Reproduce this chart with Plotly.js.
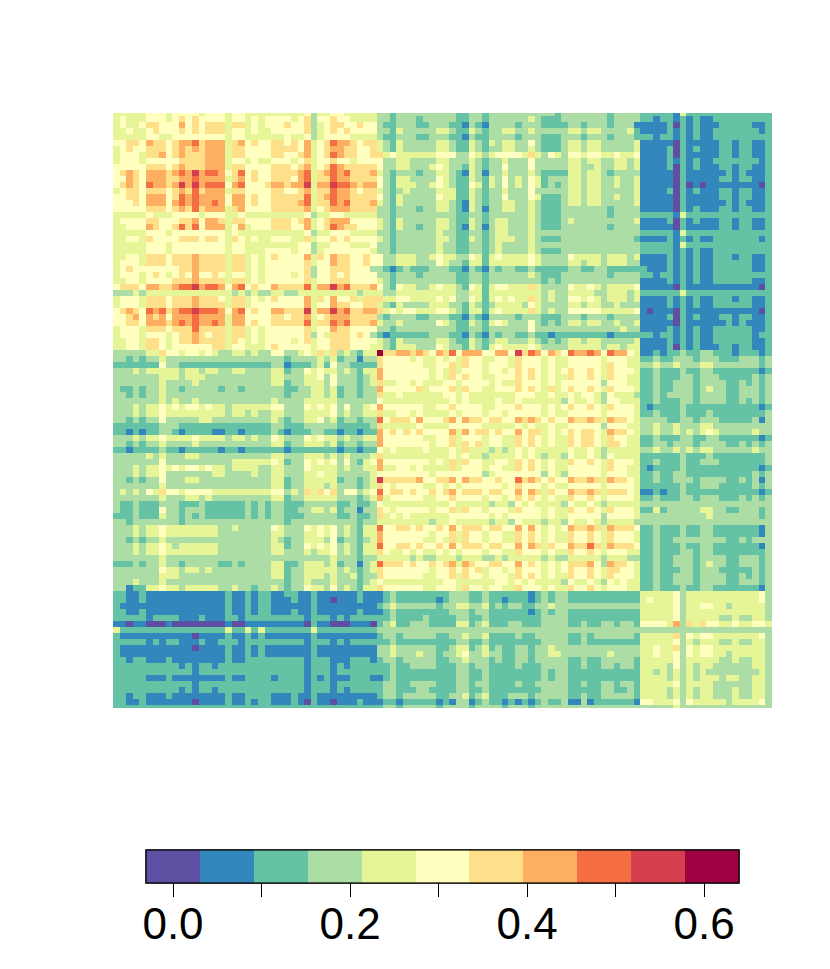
<!DOCTYPE html>
<html>
<head>
<meta charset="utf-8">
<script src="https://cdn.plot.ly/plotly-3.0.1.min.js"></script>
<style>html,body{margin:0;padding:0;background:#fff}</style>
</head>
<body>
<div id="plot" style="width:830px;height:969px"></div>
<script>
// values of the 11 colour bands, cells below are band numbers (A = 10)
var levelValues = [0.0, 0.061, 0.122, 0.183, 0.243, 0.304, 0.365, 0.426, 0.487, 0.548, 0.609];
var bandColors = ["#5E4FA2","#3288BD","#66C2A5","#ABDDA4","#E6F598","#FFFFBF","#FEE08B","#FDAE61","#F46D43","#D53E4F","#9E0142"];
var tickVals = [0, 0.1, 0.2, 0.3, 0.4, 0.5, 0.6];
var tickText = ["0.0", "", "0.2", "", "0.4", "", "0.6"];

var blockTL = [
"4444455545 5554555455 4444444445 3445544444",
"4544455545 6565555455 4545555456 3556554444",
"4544566555 7565666466 4545556556 3456655655",
"4454456555 6565666455 4544555556 3456565555",
"4444455445 5555555455 4444445445 3455554444",
"5566576656 7786777467 5655665657 4568776566",
"4565566656 7676777466 5555666657 4567766556",
"4555466756 7666777466 5555665567 4568766556",
"4555455555 6666777455 4544555456 4556554555",
"5555566656 7666777466 5555666567 4568766666",
"5676577767 8797887568 5655666678 4678786667",
"5576577766 7787777467 5655666578 4668776666",
"5676587767 9797888578 5556776779 4779887677",
"4566566656 7686777466 5555665567 4668776566",
"5566577756 8787777577 5655666668 4678776666",
"5556577757 8787787577 5655666678 4668786667",
"5555566656 7686777467 5555666667 4567776666",
"4444454445 5554555445 4444444445 3445544444",
"4555566555 6675776466 5555666567 4567775555",
"4455576556 8685777457 4555666557 4568766555",
"4444455545 5555555454 4444444445 3445554444",
"4455465555 6665665465 4544555446 4556565555",
"4444455545 5555555455 4444444455 3445554445",
"4444455545 5555555455 4445555455 3455555554",
"4455466656 6676666466 4545655557 4657665565",
"4555466656 6676666466 4545555556 4557665565",
"4565555555 6676666466 4545555556 3556665553",
"4555456545 6575565455 4545555456 3556565555",
"4455455556 6676666466 4545555556 4556665555",
"5666577667 8897887578 5655766668 4779786667",
"3334344444 4444444434 3433443344 4444444344",
"4555466656 6676665466 4545655557 4657556466",
"4555466656 6676666466 4555555557 4557665566",
"5676587867 8898887578 5655776669 4779786677",
"5567576757 7787777477 5555665667 4567776666",
"5566577767 8787787477 5655666668 4668786667",
"4555466656 6686666466 4545555556 4557665555",
"4555455545 6676566466 4545555556 3546665653",
"4455466545 6676666465 4545555456 4556665555",
"4455466545 5555566455 4445655555 4556665554"
];

var blockTM = [
"3323333333 3322332333 3333333233 3333323333",
"3323332333 3322332333 3334322233 3333323333",
"3223332233 3221321333 3233322223 3233323331",
"3324333334 4322432334 4334333334 4344333342",
"3223332233 3221322333 3233322233 3233323332",
"4324333334 4322432434 4335322234 4344333334",
"4324333334 4322432334 4334322234 4344333334",
"6454444445 5533543455 5546435435 5455445445",
"5334433334 4333432334 3335333334 4344334434",
"5334433345 4332432335 3335333334 4334334434",
"4323332334 4321431334 3334322224 4344323333",
"5324433335 4322432435 3435423334 4344334334",
"5324443345 4322542435 3435423234 4344334334",
"4323433334 4422432334 3335333334 4344333334",
"5324333335 4422432335 3335422234 4344334334",
"4324333334 4321432334 4334322234 4344333334",
"3323332334 4321431334 4334322233 3333323333",
"3323333333 3322332333 3334322233 3333323333",
"4324333334 4322432344 3334322234 3333333334",
"4324332334 4321431344 3334322233 3333323333",
"3323333334 3322332344 3334333333 3333333333",
"4323333334 4322432344 4334322233 3333333332",
"3323333334 3322332343 3334333333 3333333333",
"3323333334 3322332343 3334322233 3333333333",
"5334443345 4433542454 4445433335 4444344434",
"5334443335 4332442444 4445433334 4344344433",
"3212322233 3221321323 3223222223 3223322222",
"3323332333 3322332333 3334322233 3333323333",
"4323333333 3322332333 3333323233 3333333333",
"5325443345 4432542455 4446433335 4454344445",
"4334444444 4433442444 4444434334 4443344434",
"6445544445 4533542454 5446434335 5454344434",
"4324333344 4332432344 4435433334 4344334333",
"6454554445 5432442454 4446434335 5555444445",
"3233332233 3221321333 3233322233 3233323333",
"4334333335 4322432454 3335323234 4344334334",
"3323333333 3322332333 3335333333 3333333433",
"2122222233 3221321323 3223221222 2222212222",
"4324333334 4322432344 3334323234 4344333334",
"4324443335 4332432454 4445433334 4444344344"
];

var blockTR = [
"2222214222 2222222222",
"2212212121 1222222222",
"1111202121 1122222112",
"1111212121 1222222212",
"2212212121 1222222222",
"1111102111 1122122112",
"1111202121 1122122112",
"1111202111 1122122112",
"1111212121 1222222212",
"1111202121 1122122112",
"1111102111 1112121112",
"1111102111 1122122112",
"1111102010 1111111102",
"1111202121 1122122112",
"1111102111 1122122112",
"1111102111 1112121112",
"1111102121 1122122112",
"2222214222 2222222222",
"1111202121 1122122112",
"1111102111 1122122112",
"2222214222 2222222222",
"1111212121 1222222212",
"2222214222 2222222222",
"2222212121 1222222222",
"1111212121 1222122112",
"1111212121 1222222112",
"2111212121 1222222112",
"2212212121 1222222222",
"1111212121 1222222112",
"1111102111 1111111102",
"2222224222 2222222222",
"1111212121 1222122112",
"1111212121 1222222112",
"1011102111 1111111102",
"1111202121 1122122112",
"1111102111 1112121112",
"1111212121 1222222112",
"2212212121 1222222122",
"1111212121 1222222112",
"1111202121 1122122112"
];

var blockMM = [
"A667767657 6857775577 5968757658 7787587754",
"6555545445 4546554455 4655545445 5555455544",
"6555555445 5646554555 4655545445 5555465544",
"7555555545 4645554554 5656545456 5565465554",
"7555555545 4656554455 5656545446 5565465544",
"6445545444 5545555454 4655545455 5555355544",
"7555556455 5646554455 5656546456 5565465554",
"6445444444 5545444444 4555445445 4554354443",
"5444444444 4545444454 4544444435 4454355444",
"7555555445 5655554455 5655545456 5565465554",
"6445545444 4545554554 5555545445 5555455554",
"8566657555 6757665665 5767656557 6676476654",
"6444445444 4555554444 4545445445 5555355544",
"7565656555 5747566565 5756645456 5665476654",
"7555555445 5645554554 4656545446 5665465544",
"7555555545 5646564554 4656545446 5665466544",
"5454444544 4546444343 4545444445 4454344444",
"6444444444 4545443444 4545434435 4454354444",
"7555555545 4646554455 4656545446 5565465554",
"7445545444 4645554554 4656545445 5555465544",
"5555555545 5555553455 5555535435 5555455544",
"9666667556 6757665565 5867656557 6676476654",
"6545555445 4545555554 5655545445 5555455554",
"8566565565 6756665665 5757646557 6676466654",
"7455555445 5655554554 5656545446 5565455554",
"5444444444 4544444344 3545444435 4454344444",
"6545555545 5646554555 4655545446 5565465554",
"6454544444 4555555454 5555545445 5555355554",
"4444444434 4544444344 3544434435 4454344443",
"8556656556 5756665665 5757545457 6676476665",
"7555555545 5646554554 4656545446 5565465554",
"7555555445 4646554554 4656545446 5565465554",
"8556656556 5756665665 5757646557 6686476665",
"6544545445 4545554554 4655545446 5565455544",
"4444434334 4434443343 4444434334 4444344433",
"8666565565 6747655665 5756545456 6675376654",
"6555555545 5656564554 5655545456 5565466554",
"6555555445 5646554555 4656545446 5565465554",
"5444444444 5544444455 4545444435 4454354544",
"6555555445 5546554554 4655545446 5565455544"
];

var blockMR = [
"1121223223 3222122212",
"2232233323 3322233323",
"3343343334 4333333323",
"2232223223 3222222212",
"2232223323 3322222323",
"2232233323 3332232323",
"2232233323 4332233323",
"2232333323 3332233323",
"2232223323 3332232323",
"2122223222 2222222212",
"2232223222 3222222223",
"3333223323 3322222313",
"3343343334 4333333333",
"3343343434 5433333433",
"2232223322 3322222212",
"2233233323 3332232323",
"3343343434 4333333433",
"2222223222 3222222223",
"2232223223 3322222223",
"2122223222 2222222212",
"2232233222 2222222323",
"2232233323 3332232313",
"2222223223 3322222323",
"1121223222 2222222212",
"2232223323 3322232323",
"3333333333 3333333333",
"2242333334 4332233323",
"3333333333 4333333323",
"3333333333 3333333333",
"2232223223 3222222213",
"2232223223 3222222213",
"2232233333 3332232333",
"2232223223 3222222213",
"2232223323 3222222223",
"2232233323 3332233323",
"2232233323 4332233323",
"2232223323 3322222323",
"2232233323 3332232323",
"2232233323 3332233323",
"2232223223 3222222213"
];

var blockBR = [
"4444453444 4444444453",
"4544453444 4444444453",
"4444453445 5443444443",
"4444453444 4444444443",
"4444453444 4433433443",
"5555473646 5544544554",
"3333333333 3333333333",
"4444463545 5444444453",
"4444453434 4433433443",
"4454463545 5444444443",
"4454453545 5443444443",
"4444453444 4433433443",
"4444353434 4333333443",
"4434343434 3333333343",
"4444343434 4434433443",
"4444453444 4333333443",
"4444343434 4333433443",
"4444343434 4333433443",
"5544453544 4443444453",
"3333343333 3333333333"
];

function clean(s) { return s.replace(/ /g, ""); }
function band(ch) { return levelValues[parseInt(ch, 16)]; }

// matrix is symmetric, lower left blocks are the upper right ones flipped
var tl = blockTL.map(clean), tm = blockTM.map(clean), tr = blockTR.map(clean);
var mm = blockMM.map(clean), mr = blockMR.map(clean), br = blockBR.map(clean);

function col(block, j) { return block.map(function(row) { return row[j]; }).join(""); }

var rows = [];
for (var i = 0; i < 40; i++) rows.push(tl[i] + tm[i] + tr[i]);
for (var i = 0; i < 40; i++) rows.push(col(tm, i) + mm[i] + mr[i]);
for (var i = 0; i < 20; i++) rows.push(col(tr, i) + col(mr, i) + br[i]);

var z = rows.map(function(row) { return row.split("").map(band); });

var zmin = -0.0305, zmax = 0.6395;
var colorscale = [];
bandColors.forEach(function(c, k) {
  colorscale.push([k / 11, c]);
  colorscale.push([(k + 1) / 11, c]);
});

function colorbar(extra) {
  var cb = {
    orientation: "h",
    lenmode: "pixels",
    len: 593,
    thicknessmode: "pixels",
    thickness: 33,
    x: 0.0501,
    xanchor: "left",
    y: -0.2387,
    yanchor: "top",
    xpad: 0,
    ypad: 0,
    outlinecolor: "#000",
    outlinewidth: 1.2,
    tickmode: "array",
    tickvals: tickVals,
    ticktext: tickText,
    ticks: "outside",
    tickwidth: 1,
    tickfont: {family: "Liberation Sans", size: 44, color: "#000"}
  };
  return Object.assign(cb, extra);
}

// two bars on the same spot: one gives the long ticks, the other the labels closer in
var labelTrace = {
  type: "heatmap", z: z, zmin: zmin, zmax: zmax, colorscale: colorscale, hoverinfo: "none",
  colorbar: colorbar({ticklen: 3, tickcolor: "rgba(0,0,0,0)"})
};
var tickTrace = {
  type: "heatmap", z: z, zmin: zmin, zmax: zmax, colorscale: colorscale, hoverinfo: "none",
  colorbar: colorbar({ticklen: 14, tickcolor: "#000", showticklabels: false})
};

var layout = {
  width: 830,
  height: 969,
  margin: {l: 113, r: 58, t: 113, b: 261, autoexpand: false},
  paper_bgcolor: "#fff",
  plot_bgcolor: "#fff",
  xaxis: {visible: false, range: [-0.5, 99.5]},
  yaxis: {visible: false, range: [99, 0]}
};

Plotly.newPlot("plot", [labelTrace, tickTrace], layout, {displayModeBar: false});
</script>
</body>
</html>
